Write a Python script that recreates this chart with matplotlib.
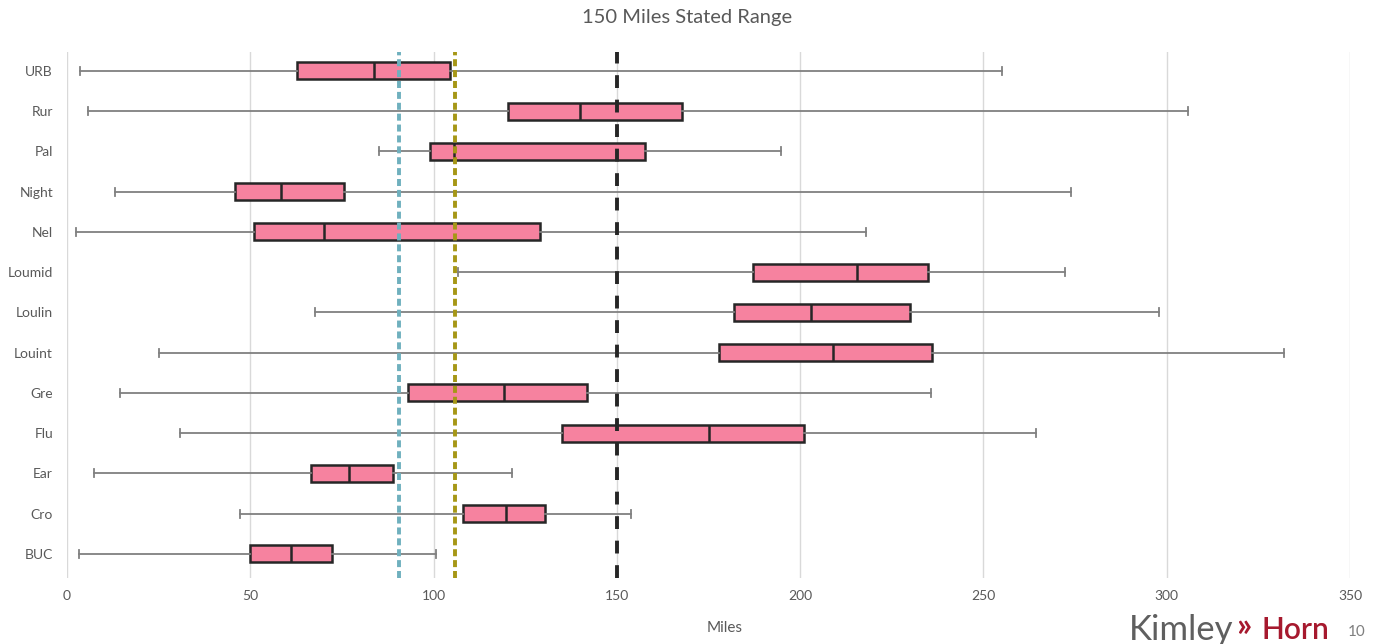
import matplotlib
matplotlib.use("Agg")
import matplotlib.pyplot as plt

plt.rcParams['font.family'] = ['Lato', 'DejaVu Sans']

# rows, top to bottom as in the chart
routes = ["URB", "Rur", "Pal", "Night", "Nel", "Loumid", "Loulin", "Louint",
          "Gre", "Flu", "Ear", "Cro", "BUC"]
low    = [3.6, 5.6, 85.1, 13.0, 2.4, 106.8, 67.7, 25.1, 14.5, 30.8, 7.5, 47.1, 3.3]
q1     = [62.8, 120.4, 98.9, 45.8, 51.0, 187.2, 182.0, 177.8, 93.1, 135.1, 66.5, 107.9, 50.0]
median = [83.7, 140.0, 105.7, 58.3, 70.0, 215.5, 203.0, 209.0, 119.2, 175.0, 76.9, 119.7, 61.0]
q3     = [104.4, 167.9, 157.8, 75.5, 129.0, 235.0, 230.0, 236.0, 141.8, 201.1, 88.8, 130.3, 72.4]
high   = [255.0, 305.8, 194.8, 274.0, 217.9, 272.2, 298.0, 332.0, 235.7, 264.3, 121.4, 153.8, 100.7]

# reference lines (miles)
ref_blue = 90.6
ref_olive = 105.8
stated_range = 150

grey = "#595959"

fig = plt.figure(figsize=(13.75, 6.44), dpi=100)
ax = fig.add_axes([67 / 1375, 1 - 578 / 644, (1350 - 67) / 1375, (578 - 52) / 644])

n = len(routes)
pos = list(range(n - 1, -1, -1))
stats = []
for i in range(n):
    stats.append({"label": routes[i], "whislo": low[i], "q1": q1[i], "med": median[i],
                  "q3": q3[i], "whishi": high[i], "fliers": []})

ax.bxp(stats, positions=pos, widths=0.42, capwidths=0.2, orientation="horizontal",
       patch_artist=True, showfliers=False,
       boxprops=dict(facecolor="#F6829F", edgecolor="#262626", linewidth=1.8),
       medianprops=dict(color="#262626", linewidth=1.8),
       whiskerprops=dict(color="#808080", linewidth=1.3),
       capprops=dict(color="#808080", linewidth=1.3), zorder=3)

ax.axvline(ref_blue, color="#6FB0BE", lw=2.8, dashes=(1.8, 1.0), zorder=4)
ax.axvline(ref_olive, color="#A69716", lw=2.8, dashes=(1.8, 1.0), zorder=4)
ax.axvline(stated_range, color="#262626", lw=2.8, dashes=(3.3, 3.0), zorder=4)

ax.set_xlim(0, 350)
ax.set_ylim(-0.6, n - 1 + 0.47)
ax.set_xticks(range(0, 351, 50))
ax.set_yticks(pos)
ax.set_yticklabels(routes)
ax.grid(axis="x", color="#d9d9d9", lw=1, zorder=0)
ax.set_axisbelow(True)
for s in ax.spines.values():
    s.set_visible(False)
ax.tick_params(length=0, labelsize=10, labelcolor=grey)
ax.tick_params(axis="x", pad=9)
ax.tick_params(axis="y", pad=10)

fig.text(0.5, 1 - 18 / 644, "150 Miles Stated Range", fontsize=14.5, color=grey,
         ha="center", va="center")
ax.set_xlabel("Miles", fontsize=11, color=grey)
ax.xaxis.set_label_coords((725 - 67) / 1283, (578 - 628) / 526, transform=ax.transAxes)
ax.xaxis.label.set_va("center")

# logo and page number
fig.text(1129 / 1375, 1 - 630 / 644, "Kimley", fontsize=25, color="#5f5f5f",
         va="center", ha="left")
fig.text(1244 / 1375, 1 - 627 / 644, "\u00bb", fontsize=24, color="#A6192E",
         va="center", ha="center", fontweight="bold")
fig.text(1262 / 1375, 1 - 630 / 644, "Horn", fontsize=21.5, color="#A6192E",
         va="center", ha="left", fontweight="semibold")
fig.text(1357 / 1375, 1 - 632 / 644, "10", fontsize=11, color="#7f7f7f",
         va="center", ha="center")

fig.savefig("out.png", dpi=100)
